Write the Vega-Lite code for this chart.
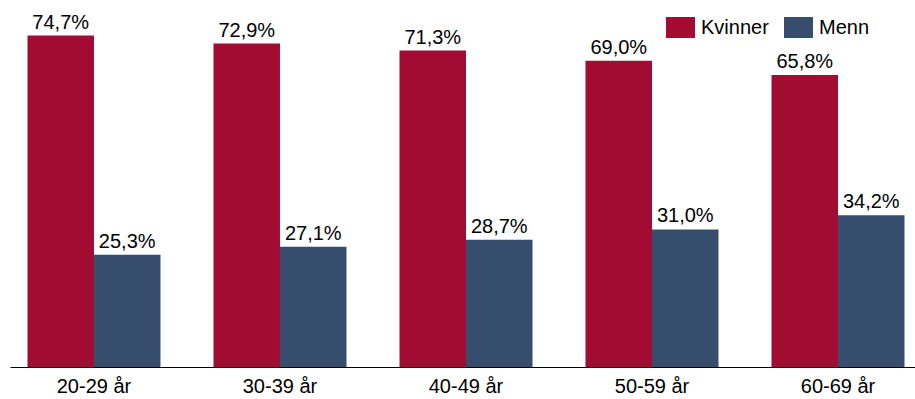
{
  "$schema": "https://vega.github.io/schema/vega-lite/v6.json",
  "width": 912,
  "height": 355,
  "padding": {"left": 10, "top": 12, "right": 0, "bottom": 0},
  "background": "white",
  "data": {
    "values": [
      {"group": "20-29 år", "sex": "Kvinner", "value": 74.7, "label": "74,7%"},
      {"group": "20-29 år", "sex": "Menn", "value": 25.3, "label": "25,3%"},
      {"group": "30-39 år", "sex": "Kvinner", "value": 72.9, "label": "72,9%"},
      {"group": "30-39 år", "sex": "Menn", "value": 27.1, "label": "27,1%"},
      {"group": "40-49 år", "sex": "Kvinner", "value": 71.3, "label": "71,3%"},
      {"group": "40-49 år", "sex": "Menn", "value": 28.7, "label": "28,7%"},
      {"group": "50-59 år", "sex": "Kvinner", "value": 69.0, "label": "69,0%"},
      {"group": "50-59 år", "sex": "Menn", "value": 31.0, "label": "31,0%"},
      {"group": "60-69 år", "sex": "Kvinner", "value": 65.8, "label": "65,8%"},
      {"group": "60-69 år", "sex": "Menn", "value": 34.2, "label": "34,2%"}
    ]
  },
  "encoding": {
    "x": {
      "field": "group", "type": "nominal", "sort": null,
      "scale": {"paddingInner": 0.285, "paddingOuter": 0.094},
      "axis": {"title": null, "labelAngle": 0, "ticks": false, "domainColor": "#000000", "domainWidth": 1,
               "labelFont": "Liberation Sans", "labelFontSize": 20, "labelColor": "#000000", "labelPadding": 9, "grid": false}
    },
    "xOffset": {"field": "sex", "type": "nominal", "scale": {"domain": ["Kvinner", "Menn"], "paddingInner": 0, "paddingOuter": 0}},
    "y": {"field": "value", "type": "quantitative", "scale": {"domain": [0, 80], "nice": false}, "axis": null}
  },
  "layer": [
    {
      "mark": {"type": "bar"},
      "encoding": {
        "color": {
          "field": "sex", "type": "nominal",
          "scale": {"domain": ["Kvinner", "Menn"], "range": ["#A20C33", "#374D6D"]},
          "legend": {
            "title": null, "orient": "none", "direction": "horizontal",
            "legendX": 660, "legendY": 5,
            "symbolType": "M-1.38,-1H1.38V1H-1.38Z", "symbolSize": 441, "symbolStrokeWidth": 0, "symbolOpacity": 1,
            "labelFont": "Liberation Sans", "labelFontSize": 20, "labelColor": "#000000", "labelOffset": 10,
            "columnPadding": 15, "padding": 0
          }
        }
      }
    },
    {
      "mark": {"type": "text", "baseline": "alphabetic", "dy": -7, "font": "Liberation Sans", "fontSize": 20, "color": "#000000"},
      "encoding": {"text": {"field": "label", "type": "nominal"}}
    }
  ],
  "config": {"view": {"stroke": null}}
}
